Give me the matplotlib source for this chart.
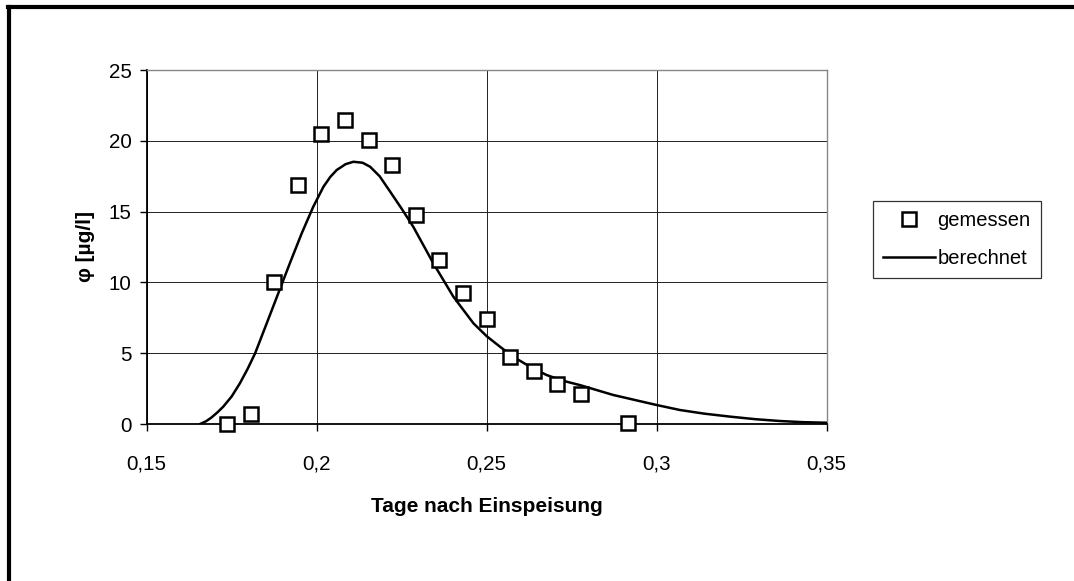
import matplotlib
matplotlib.use("Agg")
import matplotlib.pyplot as plt
from matplotlib.lines import Line2D

# measured data
meas_x = [0.1736, 0.1806, 0.1875, 0.1944, 0.2014, 0.2083, 0.2153, 0.2222, 0.2292,
          0.2361, 0.2431, 0.2500, 0.2569, 0.2639, 0.2708, 0.2778, 0.2917]
meas_y = [0.0, 0.7, 10.0, 16.9, 20.5, 21.45, 20.05, 18.3, 14.75,
          11.6, 9.25, 7.45, 4.7, 3.75, 2.8, 2.1, 0.05]

# calculated curve
calc_x = [0.1657, 0.1675, 0.1690, 0.1707, 0.1725, 0.1750, 0.1774, 0.1797, 0.1819,
          0.1853, 0.1887, 0.1921, 0.1956, 0.1990, 0.2020, 0.2040, 0.2059, 0.2085,
          0.2108, 0.2135, 0.2157, 0.2185, 0.2216, 0.2250, 0.2284, 0.2343, 0.2402,
          0.2461, 0.2500, 0.2539, 0.2578, 0.2627, 0.2676, 0.2725, 0.2774, 0.2872,
          0.3000, 0.3068, 0.3140, 0.3216, 0.3290, 0.3363, 0.3430, 0.3500]
calc_y = [0.0, 0.2, 0.45, 0.8, 1.22, 1.95, 2.87, 3.9, 5.0,
          7.11, 9.23, 11.35, 13.47, 15.35, 16.76, 17.45, 17.94, 18.35,
          18.52, 18.45, 18.17, 17.5, 16.41, 15.2, 13.93, 11.35, 8.99,
          7.11, 6.2, 5.46, 4.75, 4.05, 3.46, 3.05, 2.75, 2.05,
          1.34, 0.99, 0.73, 0.52, 0.34, 0.21, 0.13, 0.09]

xticks = [0.15, 0.2, 0.25, 0.3, 0.35]
xtick_labels = ["0,15", "0,2", "0,25", "0,3", "0,35"]
yticks = [0, 5, 10, 15, 20, 25]

plt.rcParams['font.family'] = ['Liberation Sans', 'DejaVu Sans']

fig = plt.figure(figsize=(10.74, 5.81), dpi=100)
W, H = 1074, 581
ax = fig.add_axes([146.7 / W, 1 - 424 / H, (826.7 - 146.7) / W, (424 - 70) / H])

ax.plot(calc_x, calc_y, color='black', lw=1.8, label='berechnet', zorder=3,
        solid_joinstyle='round')
ax.plot(meas_x, meas_y, linestyle='none', marker='s', markersize=10.5,
        markerfacecolor='white', markeredgecolor='black', markeredgewidth=1.8,
        label='gemessen', zorder=4, clip_on=False)

ax.set_xlim(0.15, 0.35)
ax.set_ylim(0, 25)
ax.set_xticks(xticks)
ax.set_xticklabels(xtick_labels)
ax.set_yticks(yticks)
ax.grid(True, color='#202020', lw=0.7)
ax.set_axisbelow(True)

for s in ['left', 'bottom']:
    ax.spines[s].set_color('black')
    ax.spines[s].set_linewidth(1.3)
for s in ['top', 'right']:
    ax.spines[s].set_color('#888888')
    ax.spines[s].set_linewidth(1.0)

ax.tick_params(axis='both', direction='out', length=5, width=1.0, colors='black',
               labelsize=14.8)
ax.tick_params(axis='y', pad=6)
ax.tick_params(axis='x', pad=17)

ax.set_xlabel('Tage nach Einspeisung', fontsize=15, fontweight='bold', labelpad=17)
ax.set_ylabel('φ [µg/l]', fontsize=15, fontweight='bold', labelpad=10)

handles, labels = ax.get_legend_handles_labels()
order = [1, 0]
leg = fig.legend([handles[i] for i in order], [labels[i] for i in order],
                 loc='upper left', bbox_to_anchor=(873 / W, 1 - 201 / H),
                 frameon=True, fancybox=False, fontsize=14.5, handlelength=2.6,
                 borderpad=0.5, labelspacing=0.95, handletextpad=0.1, borderaxespad=0)
leg.get_frame().set_edgecolor('black')
leg.get_frame().set_linewidth(0.9)

# outer frame (top and left edges visible)
fig.add_artist(Line2D([8 / W, 1.0], [1 - 7 / H, 1 - 7 / H], transform=fig.transFigure,
                      color='black', lw=3))
fig.add_artist(Line2D([9 / W, 9 / W], [0, 1 - 7 / H], transform=fig.transFigure,
                      color='black', lw=3))

fig.savefig('out.png', dpi=100, facecolor='white')
